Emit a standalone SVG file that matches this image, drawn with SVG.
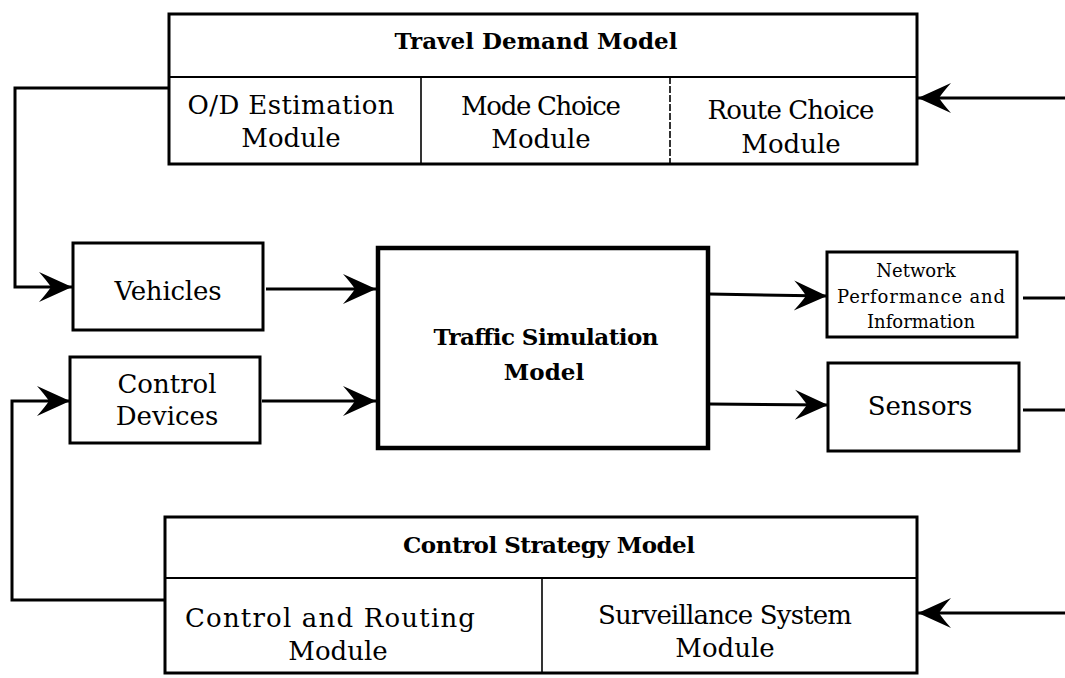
<svg xmlns="http://www.w3.org/2000/svg" width="1065" height="678" viewBox="0 0 1065 678">
  <style>
    .box { fill: #fff; stroke: #000; stroke-width: 3; }
    .thick { fill: #fff; stroke: #000; stroke-width: 4.5; }
    .rule { stroke: #000; stroke-width: 2; fill: none; }
    .split { stroke: #000; stroke-width: 1.6; fill: none; }
    .wire { stroke: #000; stroke-width: 3; fill: none; stroke-linejoin: miter; }
    .arrow { marker-end: url(#head); }
    text { font-family: "DejaVu Serif", "Liberation Serif", serif; fill: #000; text-anchor: middle; }
    .t { font-size: 26px; }
    .b { font-size: 23px; font-weight: bold; }
    .s { font-size: 18px; }
  </style>
  <defs>
    <marker id="head" viewBox="-34 -17 36 34" refX="0" refY="0" markerWidth="36" markerHeight="34" markerUnits="userSpaceOnUse" orient="auto">
      <path d="M0,0 L-33,-15 Q-25,-6 -21,0 Q-25,6 -33,15 Z" fill="#000"/>
    </marker>
  </defs>
  <rect width="1065" height="678" fill="#fff"/>

  <!-- connectors -->
  <g id="connectors">
    <polyline class="wire arrow" points="169,88 15,88 15,287 72,287"/>
    <polyline class="wire arrow" points="165,600 12,600 12,401 70,401"/>
    <line class="wire arrow" x1="266" y1="289" x2="376" y2="289"/>
    <line class="wire arrow" x1="262" y1="401" x2="376" y2="401"/>
    <line class="wire arrow" x1="709" y1="294" x2="827" y2="296"/>
    <line class="wire arrow" x1="709" y1="404" x2="828" y2="405"/>
    <line class="wire" x1="1023" y1="298" x2="1065" y2="298"/>
    <line class="wire" x1="1023" y1="410" x2="1065" y2="410"/>
    <line class="wire arrow" x1="1065" y1="98" x2="918" y2="98"/>
    <line class="wire arrow" x1="1065" y1="613" x2="918" y2="613"/>
  </g>

  <!-- travel demand model -->
  <g id="travel-demand-model">
    <rect class="box" x="169" y="14" width="748" height="150"/>
    <line class="rule" x1="169" y1="77" x2="917" y2="77"/>
    <line class="split" x1="421" y1="77" x2="421" y2="164"/>
    <line class="split" x1="670" y1="77" x2="670" y2="164" stroke-dasharray="7 2"/>
    <text class="b" x="536" y="49" textLength="283">Travel Demand Model</text>
  </g>
  <g id="od-estimation">
    <text class="t" x="291" y="114" textLength="207">O/D Estimation</text>
    <text class="t" x="291" y="147">Module</text>
  </g>
  <g id="mode-choice">
    <text class="t" x="541" y="115" textLength="160">Mode Choice</text>
    <text class="t" x="541" y="148">Module</text>
  </g>
  <g id="route-choice">
    <text class="t" x="791" y="119" textLength="167">Route Choice</text>
    <text class="t" x="791" y="153">Module</text>
  </g>

  <!-- inputs -->
  <g id="vehicles">
    <rect class="box" x="73" y="243" width="190" height="87"/>
    <text class="t" x="168" y="300" textLength="107">Vehicles</text>
  </g>
  <g id="control-devices">
    <rect class="box" x="70" y="357" width="190" height="86"/>
    <text class="t" x="167" y="393">Control</text>
    <text class="t" x="167" y="425">Devices</text>
  </g>

  <!-- simulation core -->
  <g id="traffic-simulation-model">
    <rect class="thick" x="378" y="248" width="330" height="200"/>
    <text class="b" x="546" y="345" textLength="225">Traffic Simulation</text>
    <text class="b" x="544" y="380">Model</text>
  </g>

  <!-- outputs -->
  <g id="network-performance">
    <rect class="box" x="827" y="252" width="190" height="85"/>
    <text class="s" x="916" y="277">Network</text>
    <text class="s" x="921" y="303" textLength="168">Performance and</text>
    <text class="s" x="921" y="328">Information</text>
  </g>
  <g id="sensors">
    <rect class="box" x="828" y="363" width="191" height="88"/>
    <text class="t" x="920" y="415">Sensors</text>
  </g>

  <!-- control strategy model -->
  <g id="control-strategy-model">
    <rect class="box" x="165" y="517" width="752" height="156"/>
    <line class="rule" x1="165" y1="578" x2="917" y2="578"/>
    <line class="split" x1="542" y1="578" x2="542" y2="673"/>
    <text class="b" x="549" y="553" textLength="292">Control Strategy Model</text>
  </g>
  <g id="control-routing">
    <text class="t" x="330" y="627" textLength="290">Control and Routing</text>
    <text class="t" x="338" y="660">Module</text>
  </g>
  <g id="surveillance-system">
    <text class="t" x="725" y="624" textLength="254">Surveillance System</text>
    <text class="t" x="725" y="657">Module</text>
  </g>
</svg>
